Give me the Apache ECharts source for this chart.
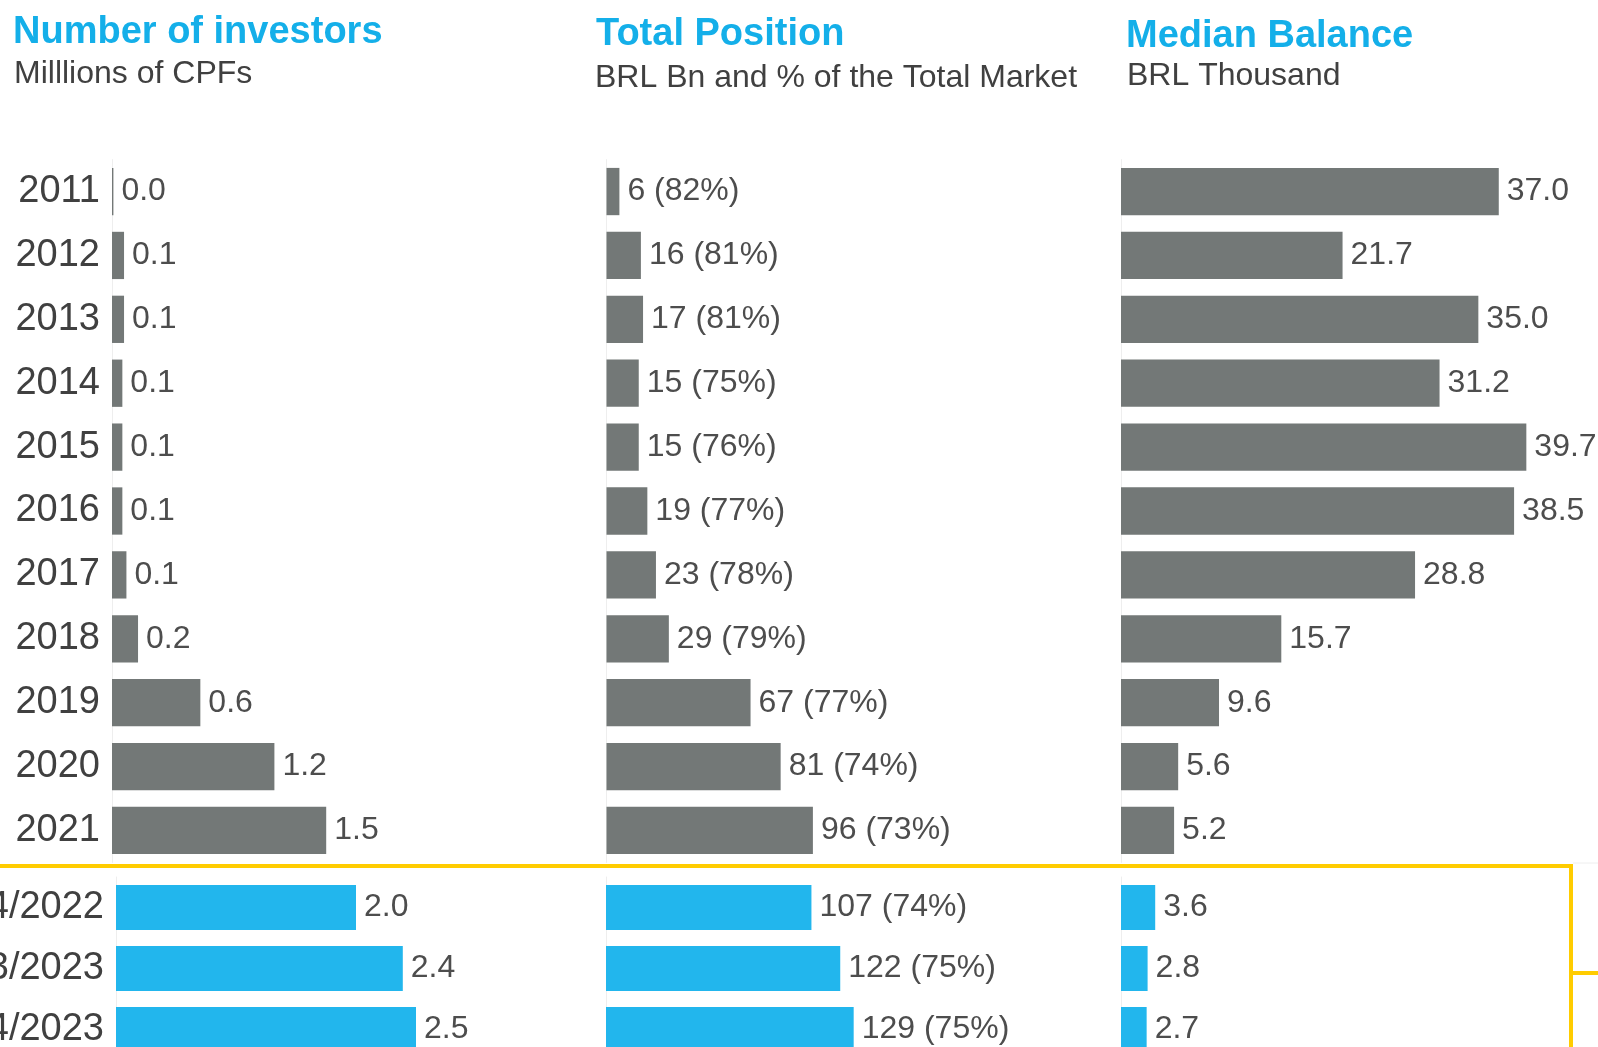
<!DOCTYPE html>
<html>
<head>
<meta charset="utf-8">
<script src="https://cdn.jsdelivr.net/npm/echarts@6/dist/echarts.min.js"></script>
<style>
  html, body { margin: 0; padding: 0; background: #fff; }
  #chart { width: 1598px; height: 1047px; }
</style>
</head>
<body>
<div id="chart"></div>
<script>
const years = ['2011', '2012', '2013', '2014', '2015', '2016', '2017', '2018', '2019', '2020', '2021'];
const quarters = ['4/2022', '3/2023', '4/2023'];

// Number of investors, millions of CPFs
const investorsYearly = [0.01, 0.086, 0.086, 0.074, 0.074, 0.074, 0.103, 0.186, 0.631, 1.16, 1.53];
const investorsQuarterly = [2.0, 2.39, 2.5];

// Total position, BRL Bn, and share of the total market (%)
const positionYearly = [6, 16, 17, 15, 15, 19, 23, 29, 67, 81, 96];
const shareYearly = [82, 81, 81, 75, 76, 77, 78, 79, 77, 74, 73];
const positionQuarterly = [107, 122, 129];
const shareQuarterly = [74, 75, 75];

// Median balance, BRL thousand
const medianYearly = [37.0, 21.7, 35.0, 31.2, 39.7, 38.5, 28.8, 15.7, 9.6, 5.6, 5.2];
const medianQuarterly = [3.6, 2.8, 2.7];

const FONT = "'Liberation Sans', Arial, sans-serif";
const GRAY = '#737877';
const CYAN = '#22b6ed';
const TITLE_CYAN = '#14afe9';
const YELLOW = '#ffcc00';
const TEXT = '#404040';

const chart = echarts.init(document.getElementById('chart'), null, { renderer: 'canvas' });

const titleStyle = { fontFamily: FONT, fontSize: 38, fontWeight: 'bold', color: TITLE_CYAN };
const subStyle = { fontFamily: FONT, fontSize: 32, fontWeight: 'normal', color: TEXT };

const grids = [
  { left: 112, top: 159.6, width: 420, height: 702.8 },
  { left: 116, top: 877, width: 360, height: 183 },
  { left: 606.5, top: 159.6, width: 430, height: 702.8 },
  { left: 606, top: 877, width: 384, height: 183 },
  { left: 1121, top: 159.6, width: 408.4, height: 702.8 },
  { left: 1121, top: 877, width: 380, height: 183 },
].map(g => Object.assign(g, { outerBoundsMode: 'none', containLabel: false }));
const maxes = [3, 3, 200, 200, 40, 40];

const xAxes = grids.map((g, i) => ({
  type: 'value', gridIndex: i, min: 0, max: maxes[i],
  show: false,
}));

const yAxes = grids.map((g, i) => ({
  type: 'category', gridIndex: i, inverse: true,
  data: i % 2 === 0 ? years : quarters,
  axisLine: { show: true, lineStyle: { color: '#eeeeee', width: 1 } },
  axisTick: { show: false },
  axisLabel: {
    show: i < 2, interval: 0, margin: 12,
    fontFamily: FONT, fontSize: 38, color: TEXT,
  },
}));

const valueLabel = (fmt) => ({
  show: true, position: 'right', distance: 8,
  fontFamily: FONT, fontSize: 32, color: '#4d4d4d',
  formatter: fmt,
});

const barSeries = (idx, data, color, fmt) => ({
  type: 'bar', xAxisIndex: idx, yAxisIndex: idx,
  data: data, barCategoryGap: '26%',
  itemStyle: { color: color },
  label: valueLabel(fmt),
  silent: true,
});

const option = {
  animation: false,
  backgroundColor: '#ffffff',
  title: [
    { text: 'Number of investors', left: 13, top: 14, padding: 0, textStyle: titleStyle },
    { text: 'Milllions of CPFs', left: 14, top: 58, padding: 0, textStyle: subStyle },
    { text: 'Total Position', left: 596, top: 16, padding: 0, textStyle: titleStyle },
    { text: 'BRL Bn and % of the Total Market', left: 595, top: 62, padding: 0, textStyle: subStyle },
    { text: 'Median Balance', left: 1126, top: 18, padding: 0, textStyle: titleStyle },
    { text: 'BRL Thousand', left: 1127, top: 60, padding: 0, textStyle: subStyle },
  ],
  grid: grids,
  xAxis: xAxes,
  yAxis: yAxes,
  series: [
    barSeries(0, investorsYearly, GRAY, p => p.value.toFixed(1)),
    barSeries(1, investorsQuarterly, CYAN, p => p.value.toFixed(1)),
    barSeries(2, positionYearly, GRAY, p => `${p.value} (${shareYearly[p.dataIndex]}%)`),
    barSeries(3, positionQuarterly, CYAN, p => `${p.value} (${shareQuarterly[p.dataIndex]}%)`),
    barSeries(4, medianYearly, GRAY, p => p.value.toFixed(1)),
    barSeries(5, medianQuarterly, CYAN, p => p.value.toFixed(1)),
  ],
  graphic: [
    // yellow frame around the most recent quarters
    { type: 'line', shape: { x1: 0, y1: 866, x2: 1571, y2: 866 }, style: { stroke: YELLOW, lineWidth: 4 } },
    { type: 'line', shape: { x1: 1571, y1: 864, x2: 1571, y2: 1047 }, style: { stroke: YELLOW, lineWidth: 4 } },
    { type: 'line', shape: { x1: 1571, y1: 973, x2: 1598, y2: 973 }, style: { stroke: YELLOW, lineWidth: 4 } },
    { type: 'line', shape: { x1: 1573, y1: 863, x2: 1598, y2: 863 }, style: { stroke: '#eeeeee', lineWidth: 1 } },
  ],
};

chart.setOption(option);

window.addEventListener('resize', () => chart.resize());
</script>
</body>
</html>
